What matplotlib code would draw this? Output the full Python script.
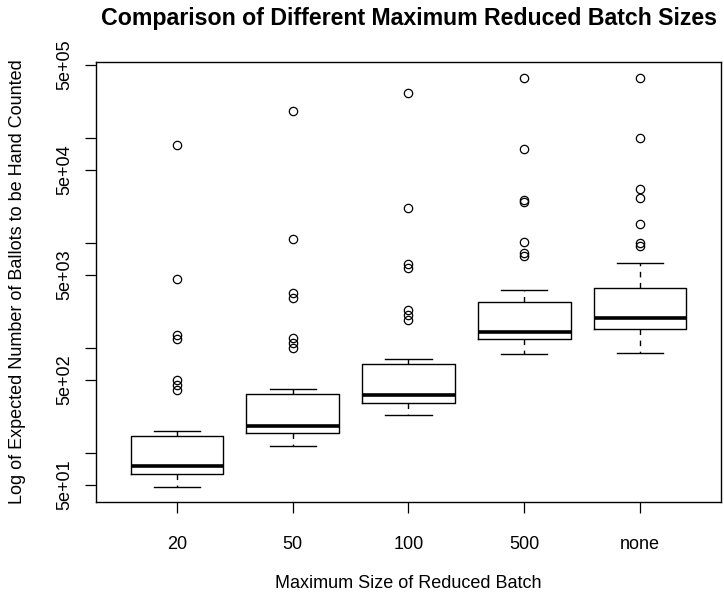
import matplotlib
matplotlib.use("Agg")
import matplotlib.pyplot as plt
from matplotlib.ticker import FixedLocator, FuncFormatter

plt.rcParams['font.family'] = ['Liberation Sans', 'DejaVu Sans']

# values (log scale)
batch_labels = ["20", "50", "100", "500", "none"]
medians = [75.9, 182.4, 357.5, 1423, 1960]
q1 = [63.2, 155.4, 302, 1221, 1520]
q3 = [147.4, 365.4, 710.3, 2767, 3784]
whisker_lo = [48.2, 118.4, 232.1, 878.7, 904]
whisker_hi = [164.5, 407.7, 792.5, 3597, 6546]
outliers = [
    [86500, 4580, 1342, 1221, 500, 448, 402],
    [181200, 11010, 3347, 3000, 1248, 1118, 1002],
    [268900, 21580, 6324, 5792, 2321, 2080, 1864],
    [373500, 79250, 25880, 24780, 10240, 8048, 7636],
    [373500, 101500, 32750, 26890, 15300, 10020, 9506],
]
y_ticks = [5e1, 1e2, 5e2, 1e3, 5e3, 1e4, 5e4, 1e5, 5e5]


def tick_label(v, pos):
    # R drops the 1e+xx labels because they would overlap
    s = "%.0e" % v
    return s if s.startswith("5") else ""


def main():
    stats = []
    for i in range(len(batch_labels)):
        stats.append({
            "med": medians[i], "q1": q1[i], "q3": q3[i],
            "whislo": whisker_lo[i], "whishi": whisker_hi[i],
            "fliers": outliers[i], "label": batch_labels[i],
        })

    fig = plt.figure(figsize=(7.24, 6), dpi=100)
    ax = fig.add_axes([96 / 724, 1 - 502.3 / 600, 625 / 724, 440.6 / 600])

    ax.bxp(stats, positions=range(1, 6), widths=0.8, capwidths=0.4,
           boxprops=dict(color="black", linewidth=1),
           medianprops=dict(color="black", linewidth=2.6, solid_capstyle="butt"),
           whiskerprops=dict(color="black", linewidth=1, linestyle=(0, (4, 4))),
           capprops=dict(color="black", linewidth=1),
           flierprops=dict(marker="o", markerfacecolor="none", markeredgecolor="black",
                           markersize=6, markeredgewidth=0.9, linestyle="none"))

    ax.set_yscale("log")
    ax.set_ylim(34.2, 537000)
    ax.set_xlim(0.3, 5.7)
    ax.yaxis.set_major_locator(FixedLocator(y_ticks))
    ax.yaxis.set_major_formatter(FuncFormatter(tick_label))
    ax.yaxis.set_minor_locator(FixedLocator([]))
    ax.set_xticks(range(1, 6))
    ax.set_xticklabels(batch_labels)

    ax.tick_params(axis="both", direction="out", length=8, width=0.9, labelsize=13)
    ax.tick_params(axis="x", pad=16)
    ax.tick_params(axis="y", pad=8)
    for t in ax.get_yticklabels():
        t.set_rotation(90)
        t.set_rotation_mode("anchor")
        t.set_ha("center")
        t.set_va("bottom")
    for sp in ax.spines.values():
        sp.set_linewidth(1)
        sp.set_color("black")

    fig.text(409 / 724, 1 - 18 / 600, "Comparison of Different Maximum Reduced Batch Sizes",
             ha="center", va="center", fontsize=16.7, fontweight="bold")
    fig.text(408.5 / 724, 1 - 584 / 600, "Maximum Size of Reduced Batch",
             ha="center", va="center", fontsize=13)
    fig.text(18 / 724, 1 - 282 / 600, "Log of Expected Number of Ballots to be Hand Counted",
             ha="center", va="center", rotation=90, fontsize=13)

    fig.savefig("out.png", dpi=100)


if __name__ == "__main__":
    main()
